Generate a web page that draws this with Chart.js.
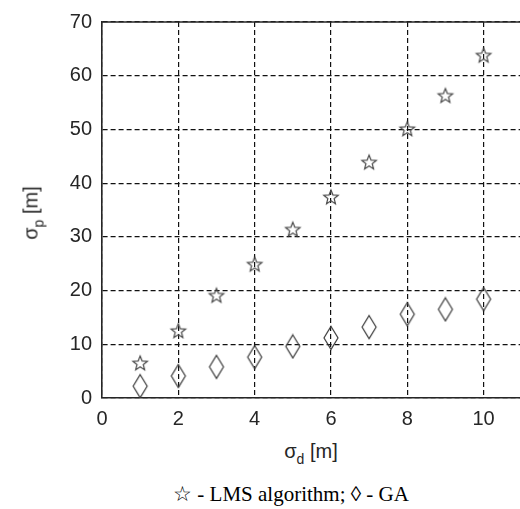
<!DOCTYPE html>
<html>
<head>
<meta charset="utf-8">
<script src="https://cdn.jsdelivr.net/npm/chart.js@4/dist/chart.umd.min.js"></script>
<style>
  html, body { margin: 0; padding: 0; background: #fff; overflow: hidden; }
  #wrap { position: relative; width: 520px; height: 509px; overflow: hidden; background: #fff; }
  #plot { position: absolute; left: 0; top: 0; width: 580px; height: 430px; }
  .lbl { position: absolute; white-space: nowrap; font-family: "Liberation Sans", Arial, sans-serif; font-size: 20px; color: #262626; transform: translate(-50%, -50%); }
  .lbl sub { font-size: 14px; vertical-align: -6px; }
  #ytitle { left: 33px; top: 213px; transform: translate(-50%, -50%) rotate(-90deg); }
  #xtitle { left: 311px; top: 453px; }
  #caption { position: absolute; left: 291px; top: 494px; transform: translate(-50%, -50%); white-space: nowrap;
             font-family: "Liberation Serif", "Times New Roman", serif; font-size: 21px; color: #000; }
</style>
</head>
<body>
<div id="wrap">
  <div id="plot"><canvas id="c" width="580" height="430"></canvas></div>
  <div id="ytitle" class="lbl">σ<sub>p</sub> [m]</div>
  <div id="xtitle" class="lbl">σ<sub>d</sub> [m]</div>
  <div id="caption">☆ - LMS algorithm; ◊ - GA</div>
</div>
<script>
// sigma_d values (m)
const sigmaD = [1, 2, 3, 4, 5, 6, 7, 8, 9, 10];
// sigma_p for LMS algorithm (stars)
const lmsValues = [6.5, 12.5, 19.1, 24.9, 31.4, 37.4, 43.9, 50.1, 56.3, 63.8];
// sigma_p for GA (diamonds)
const gaValues = [2.2, 4.1, 5.8, 7.6, 9.6, 11.2, 13.2, 15.6, 16.5, 18.4];

const xMin = 0, xMax = 12, xStep = 2;
const yMin = 0, yMax = 70, yStep = 10;

const inkColor = '#262626';

// marker: hollow five point star
function makeStar() {
  const c = document.createElement('canvas');
  c.width = 20; c.height = 20;
  const g = c.getContext('2d');
  g.strokeStyle = '#4a4a4a';
  g.lineWidth = 1.2;
  g.beginPath();
  for (let i = 0; i < 10; i++) {
    const r = i % 2 === 0 ? 7.6 : 3.3;
    const a = -Math.PI / 2 + i * Math.PI / 5;
    const px = 10 + r * Math.cos(a), py = 10.5 + r * Math.sin(a);
    if (i === 0) g.moveTo(px, py); else g.lineTo(px, py);
  }
  g.closePath();
  g.stroke();
  return c;
}

// marker: hollow tall diamond
function makeDiamond() {
  const c = document.createElement('canvas');
  c.width = 18; c.height = 26;
  const g = c.getContext('2d');
  g.strokeStyle = '#3a3a3a';
  g.lineWidth = 1.2;
  g.beginPath();
  g.moveTo(9, 1.5);
  g.lineTo(16, 13);
  g.lineTo(9, 24.5);
  g.lineTo(2, 13);
  g.closePath();
  g.stroke();
  return c;
}

function toPoints(xs, ys) {
  return xs.map((x, i) => ({ x: x, y: ys[i] }));
}

// top frame line (MATLAB box)
const boxPlugin = {
  id: 'boxTop',
  afterDraw(chart) {
    const { ctx, chartArea } = chart;
    ctx.save();
    ctx.strokeStyle = inkColor;
    ctx.lineWidth = 1.5;
    ctx.beginPath();
    ctx.moveTo(chartArea.left - 0.75, chartArea.top);
    ctx.lineTo(chartArea.right, chartArea.top);
    ctx.stroke();
    ctx.restore();
  }
};

const tickFont = { family: '"Liberation Sans", Arial, sans-serif', size: 20 };

new Chart(document.getElementById('c').getContext('2d'), {
  type: 'scatter',
  data: {
    datasets: [
      {
        label: 'LMS algorithm',
        data: toPoints(sigmaD, lmsValues),
        pointStyle: makeStar(),
        showLine: false
      },
      {
        label: 'GA',
        data: toPoints(sigmaD, gaValues),
        pointStyle: makeDiamond(),
        showLine: false
      }
    ]
  },
  options: {
    responsive: false,
    animation: false,
    devicePixelRatio: 1,
    layout: { padding: { top: 20, right: 16, bottom: 0, left: 0 } },
    plugins: {
      legend: { display: false },
      tooltip: { enabled: false }
    },
    scales: {
      x: {
        type: 'linear',
        min: xMin,
        max: xMax,
        ticks: { stepSize: xStep, color: inkColor, font: tickFont, padding: 9, maxRotation: 0 },
        grid: { color: '#111', lineWidth: 1.2, drawTicks: false },
        border: { display: true, color: inkColor, width: 1.6, dash: [5, 3] },
        afterFit(scale) { scale.height = 32; }
      },
      y: {
        type: 'linear',
        min: yMin,
        max: yMax,
        ticks: { stepSize: yStep, color: inkColor, font: tickFont, padding: 10 },
        grid: { color: '#111', lineWidth: 1.2, drawTicks: false },
        border: { display: true, color: inkColor, width: 1.6, dash: [5, 3] },
        afterFit(scale) { scale.width = 102; }
      }
    }
  },
  plugins: [boxPlugin]
});
</script>
</body>
</html>
